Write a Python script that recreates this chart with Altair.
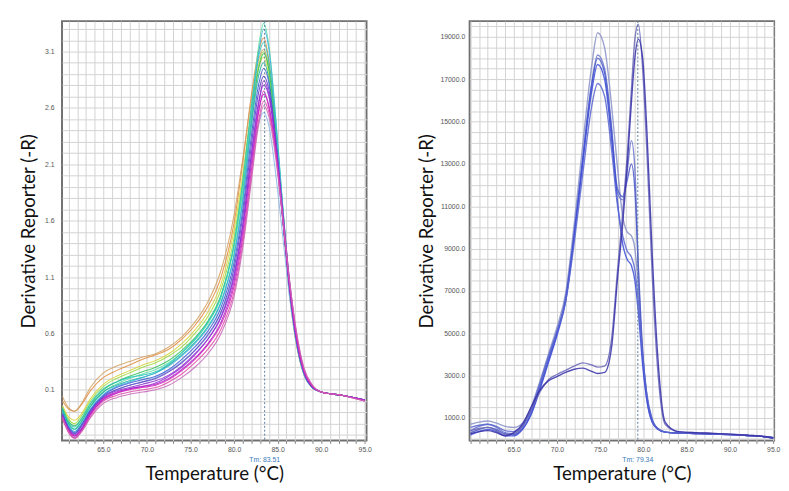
import altair as alt
import pandas as pd

# ---------------- Left panel: single-product melt curves ----------------
temp_left = [60.3, 61.0, 61.7, 62.5, 63.5, 65.0, 66.5, 68.0, 69.5, 71.0, 72.5, 74.0, 75.5, 77.0, 78.5,
             80.0, 81.0, 82.0, 82.8, 83.4, 84.0, 84.8, 85.6, 86.4, 87.2, 88.0, 89.0, 90.0, 92.5, 95.0]

left_orange = [0.00, -0.07, -0.09, -0.03, 0.09, 0.21, 0.27, 0.32, 0.37, 0.41, 0.46, 0.55, 0.67, 0.84, 1.10,
               1.58, 2.12, 2.72, 3.10, 3.22, 3.02, 2.42, 1.66, 0.96, 0.50, 0.25, 0.12, 0.08, 0.05, 0.01]
left_tan = [0.04, -0.06, -0.09, -0.02, 0.12, 0.25, 0.31, 0.35, 0.39, 0.42, 0.48, 0.57, 0.70, 0.88, 1.16,
            1.65, 2.15, 2.68, 3.02, 3.12, 2.95, 2.38, 1.62, 0.93, 0.48, 0.24, 0.12, 0.08, 0.05, 0.01]
left_yellow = [-0.04, -0.14, -0.17, -0.11, 0.02, 0.15, 0.22, 0.27, 0.32, 0.36, 0.42, 0.51, 0.63, 0.79, 1.04,
               1.52, 2.02, 2.60, 2.96, 3.05, 2.88, 2.32, 1.60, 0.94, 0.49, 0.24, 0.12, 0.08, 0.05, 0.01]
left_lime = [-0.05, -0.16, -0.20, -0.13, 0.00, 0.13, 0.20, 0.25, 0.30, 0.34, 0.40, 0.48, 0.60, 0.75, 0.99,
             1.45, 1.96, 2.56, 2.97, 3.10, 2.93, 2.36, 1.63, 0.96, 0.50, 0.25, 0.12, 0.08, 0.05, 0.01]
left_green = [-0.07, -0.18, -0.22, -0.16, -0.03, 0.10, 0.17, 0.22, 0.26, 0.30, 0.36, 0.45, 0.56, 0.71, 0.94,
              1.38, 1.88, 2.50, 2.94, 3.08, 2.94, 2.40, 1.68, 1.00, 0.52, 0.26, 0.13, 0.08, 0.05, 0.01]
left_mint = [-0.09, -0.21, -0.25, -0.18, -0.05, 0.08, 0.15, 0.20, 0.24, 0.28, 0.34, 0.43, 0.54, 0.69, 0.92,
             1.37, 1.90, 2.60, 3.14, 3.35, 3.15, 2.50, 1.72, 1.02, 0.53, 0.26, 0.13, 0.08, 0.05, 0.01]
left_teal = [-0.08, -0.20, -0.25, -0.18, -0.05, 0.08, 0.14, 0.18, 0.21, 0.25, 0.32, 0.41, 0.52, 0.66, 0.88,
             1.30, 1.78, 2.45, 2.88, 3.00, 2.85, 2.30, 1.60, 0.95, 0.50, 0.24, 0.12, 0.08, 0.05, 0.01]
left_cyan = [-0.10, -0.22, -0.27, -0.20, -0.07, 0.06, 0.13, 0.17, 0.21, 0.25, 0.31, 0.40, 0.51, 0.65, 0.87,
             1.29, 1.80, 2.52, 3.08, 3.30, 3.12, 2.48, 1.70, 1.00, 0.52, 0.25, 0.12, 0.08, 0.05, 0.01]
left_sky = [-0.12, -0.25, -0.31, -0.24, -0.10, 0.04, 0.10, 0.14, 0.17, 0.21, 0.27, 0.35, 0.45, 0.58, 0.78,
            1.14, 1.55, 2.12, 2.46, 2.56, 2.44, 2.00, 1.45, 0.90, 0.49, 0.24, 0.12, 0.08, 0.05, 0.01]
left_blue = [-0.11, -0.23, -0.28, -0.21, -0.08, 0.05, 0.12, 0.16, 0.19, 0.22, 0.28, 0.37, 0.48, 0.62, 0.83,
             1.23, 1.70, 2.36, 2.80, 2.95, 2.82, 2.30, 1.62, 0.97, 0.51, 0.25, 0.12, 0.08, 0.05, 0.01]
left_indigo = [-0.12, -0.24, -0.29, -0.22, -0.09, 0.04, 0.10, 0.14, 0.17, 0.20, 0.26, 0.34, 0.45, 0.59, 0.79,
               1.18, 1.64, 2.28, 2.73, 2.88, 2.76, 2.27, 1.62, 0.98, 0.52, 0.26, 0.12, 0.08, 0.05, 0.01]
left_violet = [-0.13, -0.25, -0.30, -0.24, -0.10, 0.03, 0.09, 0.12, 0.15, 0.18, 0.23, 0.31, 0.42, 0.55, 0.75,
               1.12, 1.57, 2.20, 2.65, 2.80, 2.70, 2.24, 1.62, 1.00, 0.54, 0.27, 0.13, 0.08, 0.05, 0.01]
left_purple = [-0.14, -0.26, -0.31, -0.25, -0.11, 0.02, 0.08, 0.11, 0.13, 0.15, 0.20, 0.28, 0.38, 0.51, 0.70,
               1.06, 1.50, 2.12, 2.57, 2.72, 2.62, 2.20, 1.60, 1.00, 0.55, 0.27, 0.13, 0.08, 0.05, 0.01]
left_magenta = [-0.15, -0.26, -0.31, -0.25, -0.12, 0.02, 0.07, 0.10, 0.12, 0.14, 0.19, 0.27, 0.37, 0.50, 0.68,
                1.02, 1.45, 2.05, 2.55, 2.75, 2.60, 2.20, 1.60, 1.00, 0.55, 0.27, 0.13, 0.08, 0.05, 0.00]
left_pink = [-0.16, -0.28, -0.33, -0.27, -0.14, 0.00, 0.05, 0.08, 0.10, 0.12, 0.17, 0.24, 0.34, 0.46, 0.64,
             0.97, 1.40, 2.00, 2.48, 2.66, 2.56, 2.18, 1.62, 1.04, 0.58, 0.29, 0.14, 0.08, 0.05, 0.00]
left_rose = [-0.14, -0.27, -0.32, -0.27, -0.15, -0.02, 0.03, 0.06, 0.08, 0.10, 0.14, 0.21, 0.30, 0.42, 0.60,
             0.93, 1.36, 1.96, 2.44, 2.62, 2.52, 2.14, 1.60, 1.04, 0.60, 0.30, 0.14, 0.08, 0.05, 0.00]
left_aqua2 = [-0.06, -0.19, -0.23, -0.15, -0.02, 0.11, 0.17, 0.21, 0.23, 0.26, 0.33, 0.43, 0.55, 0.70, 0.93,
              1.40, 1.95, 2.62, 3.05, 3.18, 3.00, 2.44, 1.70, 1.01, 0.53, 0.26, 0.13, 0.08, 0.05, 0.01]
left_grape2 = [-0.13, -0.27, -0.33, -0.26, -0.12, 0.01, 0.07, 0.11, 0.13, 0.16, 0.22, 0.30, 0.41, 0.55, 0.74,
               1.10, 1.55, 2.18, 2.62, 2.84, 2.72, 2.30, 1.68, 1.05, 0.57, 0.28, 0.13, 0.08, 0.05, 0.01]

left_series = [
    ("orange", "#e0893a", left_orange), ("tan", "#d2a060", left_tan), ("yellow", "#d8d23c", left_yellow),
    ("lime", "#9edc3e", left_lime), ("green", "#34c35a", left_green), ("mint", "#5ee0a8", left_mint),
    ("aqua2", "#28c8b8", left_aqua2),
    ("teal", "#1eb4a0", left_teal), ("cyan", "#3cb4dc", left_cyan), ("sky", "#8ab4e6", left_sky),
    ("blue", "#3b5bd6", left_blue), ("indigo", "#5b3ec6", left_indigo), ("violet", "#8b32d2", left_violet),
    ("grape2", "#9a2ad8", left_grape2),
    ("purple", "#b02cc8", left_purple), ("magenta", "#d41ec0", left_magenta), ("pink", "#e04aa8", left_pink),
    ("rose", "#c864b8", left_rose),
]
tm_left = 83.51
left_y_major = [0.1, 0.6, 1.1, 1.6, 2.1, 2.6, 3.1]
left_y_grid = [round(-0.3 + 0.1 * i, 1) for i in range(37)]
left_x_grid = list(range(61, 96))

# ---------------- Right panel: two-product melt curves ----------------
temp_right = [60.0, 61.0, 62.0, 63.0, 64.0, 65.0, 66.0, 67.0, 68.0, 69.0, 70.0, 71.0, 72.0, 73.0, 74.0, 74.7,
              75.5, 76.3, 77.0, 77.6, 78.1, 78.6, 79.0, 79.4, 79.9, 80.4, 81.0, 81.6, 82.5, 84.0, 86.0, 88.0,
              90.0, 92.0, 94.0, 95.0]

right_a1 = [700, 800, 850, 750, 600, 550, 750, 1500, 2700, 4000, 5300, 6900, 10200, 14000, 17600, 19200,
            18500, 15800, 12800, 10500, 9800, 9600, 9000, 7200, 4000, 2000, 900, 500, 330, 280, 260, 240,
            210, 170, 110, 60]
right_a2 = [400, 600, 700, 550, 300, 250, 600, 1300, 2500, 3800, 5100, 6700, 9800, 13400, 16800, 18150,
            17500, 14800, 11600, 11300, 12600, 14100, 12800, 8000, 3800, 1800, 800, 500, 330, 280, 260, 240,
            210, 170, 110, 60]
right_a3 = [300, 450, 550, 450, 250, 200, 500, 1200, 2400, 3700, 5000, 6600, 9700, 13300, 16700, 18000,
            17300, 14600, 11800, 11450, 12200, 13000, 11800, 8200, 4200, 2000, 900, 520, 330, 280, 260, 240,
            210, 170, 110, 60]
right_a4 = [200, 350, 450, 350, 150, 150, 450, 1150, 2300, 3600, 4900, 6500, 9600, 13100, 16400, 17700,
            17000, 14200, 11200, 9200, 8500, 8200, 7500, 6000, 3500, 1800, 800, 480, 330, 280, 260, 240,
            210, 170, 110, 60]
right_a5 = [550, 650, 700, 600, 400, 350, 650, 1400, 2600, 3900, 5100, 6500, 9300, 12600, 15700, 16800,
            16200, 13700, 11000, 9600, 8900, 8600, 8000, 6500, 4000, 2100, 950, 500, 330, 280, 260, 240,
            210, 170, 110, 60]
right_b1 = [400, 500, 550, 400, 200, 250, 600, 1400, 2200, 2800, 3050, 3250, 3450, 3600, 3500, 3400,
            3450, 4700, 8000, 10700, 13300, 16500, 18900, 19600, 17500, 13500, 7800, 3500, 700, 350, 300, 270,
            230, 180, 120, 50]
right_b2 = [250, 350, 400, 300, 150, 300, 700, 1500, 2300, 2750, 2950, 3150, 3300, 3350, 3200, 3100,
            3150, 4300, 7600, 10200, 12800, 15900, 18000, 18900, 18000, 14500, 8800, 4200, 800, 350, 300, 270,
            230, 180, 120, 50]

right_series = [
    ("a1", "#8a90c8", right_a1), ("a2", "#6a74cc", right_a2), ("a3", "#4a58c8", right_a3),
    ("a4", "#3c4cd8", right_a4), ("a5", "#5a66d0", right_a5), ("b1", "#6a66b8", right_b1),
    ("b2", "#3630a8", right_b2),
]
tm_right = 79.34
right_y_major = [1000, 3000, 5000, 7000, 9000, 11000, 13000, 15000, 17000, 19000]
right_y_grid = list(range(0, 19501, 500))
right_x_grid = list(range(60, 96))

TITLE_FONT = "Lato"
LABEL_FONT = "Liberation Sans"
W, H = 310, 427


def long_df(temps, series):
    rows = []
    for name, _, vals in series:
        for t, v in zip(temps, vals):
            rows.append({"curve": name, "T": t, "v": v})
    return pd.DataFrame(rows)


def panel(temps, series, xdom, ydom, xgrid, ygrid, ymajor, tm, lw, ylab_pad, ytitle_pad, field):
    df = long_df(temps, series).rename(columns={"curve": field})
    x = alt.X("T:Q", scale=alt.Scale(domain=xdom, nice=False, zero=False),
              axis=alt.Axis(values=xgrid,
                            labelExpr="datum.value % 5 == 0 && datum.value > 62 ? format(datum.value, '.1f') : ''",
                            labelFont=LABEL_FONT, labelFontSize=7, labelColor="#555", labelOverlap=False,
                            labelFlush=False, labelPadding=2, tickSize=3, tickColor="#888", domain=False,
                            gridColor="#d2d2d2", gridWidth=1, title="Temperature (°C)", titleFont=TITLE_FONT,
                            titleFontSize=19, titleFontWeight="normal", titleColor="#111", titlePadding=13))
    y = alt.Y("v:Q", scale=alt.Scale(domain=ydom, nice=False, zero=False),
              axis=alt.Axis(values=ygrid,
                            labelExpr=f"indexof({ymajor}, datum.value) >= 0 ? format(datum.value, '.1f') : ''",
                            labelFont=LABEL_FONT, labelFontSize=7, labelColor="#555", labelOverlap=False,
                            labelPadding=ylab_pad, tickSize=0, domain=False, gridColor="#d2d2d2", gridWidth=1,
                            title="Derivative Reporter (-R)", titleFont=TITLE_FONT, titleFontSize=19,
                            titleFontWeight="normal", titleColor="#111", titlePadding=ytitle_pad))
    names = [s[0] for s in series]
    cols = [s[1] for s in series]
    lines = alt.Chart(df).mark_line(interpolate="monotone", strokeWidth=lw, opacity=0.85, clip=True).encode(
        x=x, y=y,
        color=alt.Color(f"{field}:N", scale=alt.Scale(domain=names, range=cols), legend=None),
    )
    tdf = pd.DataFrame({"T": [tm], "label": [f"Tm: {tm}"]})
    rule = alt.Chart(tdf).mark_rule(color="#5b7c9c", strokeDash=[2, 2], strokeWidth=1).encode(x=x)
    txt = alt.Chart(tdf).mark_text(font=LABEL_FONT, fontSize=7, color="#3a7ab8", baseline="middle").encode(
        x=x, y=alt.value(H + 20), text="label:N")
    return alt.layer(lines, rule, txt).properties(width=W, height=H)


left = panel(temp_left, left_series, [60.25, 95.2], [-0.35, 3.37], left_x_grid, left_y_grid,
             left_y_major, tm_left, 1.1, 8, 6, "curveL")
right = panel(temp_right, right_series, [59.9, 95.1], [-70, 19750], right_x_grid, right_y_grid,
              right_y_major, tm_right, 1.4, 5, 4, "curveR")

chart = alt.hconcat(left, right, spacing=43).resolve_scale(color="independent").properties(
    padding={"left": 11, "top": 7, "right": 0, "bottom": 0}
).configure_view(stroke="#707070", strokeWidth=2)

chart.save("out.html", embed_options={"renderer": "svg", "actions": False})
